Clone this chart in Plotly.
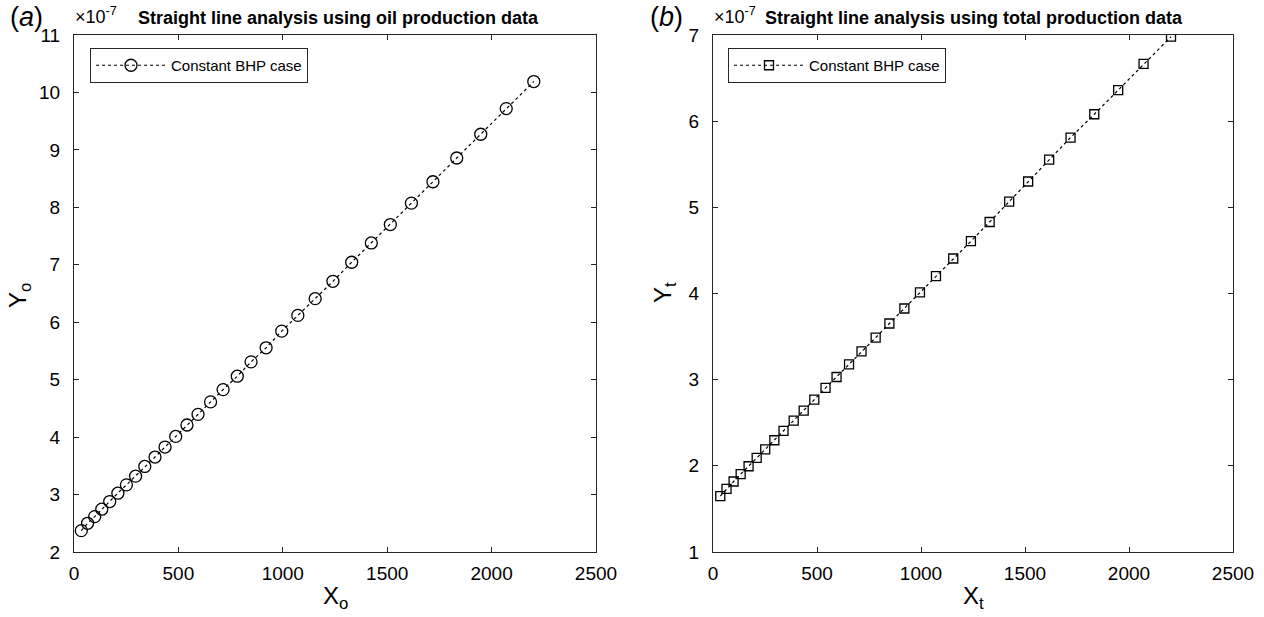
import plotly.graph_objects as go

# ---- data (y values in units of 1e-7) ----
x_vals = [35, 65, 99, 133, 171, 210, 251, 295, 339, 388, 436, 487, 541, 594, 654,
          714, 782, 848, 920, 995, 1072, 1155, 1240, 1330, 1424, 1515, 1616, 1719,
          1833, 1948, 2070, 2202]
y_oil = [2.372, 2.50, 2.616, 2.745, 2.878, 3.024, 3.169, 3.32, 3.489, 3.653, 3.827,
         4.012, 4.211, 4.396, 4.613, 4.827, 5.06, 5.31, 5.555, 5.845, 6.119, 6.41,
         6.712, 7.044, 7.38, 7.70, 8.073, 8.445, 8.859, 9.272, 9.719, 10.19]
y_total = [1.648, 1.733, 1.818, 1.903, 1.995, 2.093, 2.192, 2.297, 2.406, 2.525, 2.641,
           2.768, 2.904, 3.031, 3.177, 3.328, 3.487, 3.652, 3.826, 4.012, 4.202, 4.406,
           4.607, 4.83, 5.066, 5.30, 5.553, 5.81, 6.08, 6.36, 6.665, 6.98]
x_ticks = [0, 500, 1000, 1500, 2000, 2500]
y_ticks_a = [2, 3, 4, 5, 6, 7, 8, 9, 10, 11]
y_ticks_b = [1, 2, 3, 4, 5, 6, 7]
series_name = "Constant BHP case"
title_a = "Straight line analysis using oil production data"
title_b = "Straight line analysis using total production data"

W, H = 1264, 617
L, R, T, B = 74, 31, 35, 65
PW = W - L - R
PH = H - T - B

def px(xp):
    return (xp - L) / PW

def py(yp):
    return (H - B - yp) / PH

FONT = "Liberation Sans, Arial, sans-serif"
AX = "#262626"

fig = go.Figure()
fig.add_trace(go.Scatter(
    x=x_vals, y=y_oil, mode="lines+markers", name=series_name,
    line=dict(color="black", width=1.2, dash="dot"),
    marker=dict(symbol="circle-open", size=12, color="black", line=dict(width=1.3)),
    xaxis="x", yaxis="y", legend="legend"))
fig.add_trace(go.Scatter(
    x=x_vals, y=y_total, mode="lines+markers", name=series_name,
    line=dict(color="black", width=1.2, dash="dot"),
    marker=dict(symbol="square-open", size=9, color="black", line=dict(width=1.3)),
    xaxis="x2", yaxis="y2", legend="legend2"))

axis_common = dict(
    showline=True, linecolor=AX, linewidth=1, mirror="ticks",
    ticks="inside", ticklen=5, tickcolor=AX, tickwidth=1,
    showgrid=False, zeroline=False, automargin=False,
    tickfont=dict(family=FONT, size=19, color="black"),
)
xa_end = px(596)
xb_start = px(713)

fig.update_layout(
    width=W, height=H,
    margin=dict(l=L, r=R, t=T, b=B),
    paper_bgcolor="white", plot_bgcolor="white",
    font=dict(family=FONT, color="black"),
    xaxis=dict(domain=[0, xa_end], range=[0, 2500], tickvals=x_ticks, anchor="y",
               ticklabelstandoff=4, **axis_common),
    yaxis=dict(domain=[0, 1], range=[2, 11], tickvals=y_ticks_a, anchor="x",
               ticklabelstandoff=9, **axis_common),
    xaxis2=dict(domain=[xb_start, 1], range=[0, 2500], tickvals=x_ticks, anchor="y2",
                ticklabelstandoff=4, **axis_common),
    yaxis2=dict(domain=[0, 1], range=[1, 7], tickvals=y_ticks_b, anchor="x2",
                ticklabelstandoff=9, **axis_common),
    legend=dict(x=px(90), y=py(48), xanchor="left", yanchor="top",
                bordercolor=AX, borderwidth=1, bgcolor="white",
                font=dict(family=FONT, size=15), itemwidth=70,
                tracegroupgap=0),
    legend2=dict(x=px(728), y=py(48), xanchor="left", yanchor="top",
                 bordercolor=AX, borderwidth=1, bgcolor="white",
                 font=dict(family=FONT, size=15), itemwidth=70,
                 tracegroupgap=0),
    showlegend=True,
)

ann = []
def add(text, xp, yp, size, xanchor="left", angle=0):
    ann.append(dict(text=text, x=px(xp), y=py(yp), xref="paper", yref="paper",
                    xanchor=xanchor, yanchor="middle", showarrow=False,
                    textangle=angle,
                    font=dict(family=FONT, size=size, color="black")))

add("(<i>a</i>)", 8, 17, 27)
add("×10<sup>-7</sup>", 73, 16, 18)
add("<b>" + title_a + "</b>", 136, 18, 18)
add("(<i>b</i>)", 648, 17, 27)
add("×10<sup>-7</sup>", 712, 16, 18)
add("<b>" + title_b + "</b>", 763, 18, 18)
add("Y<sub>o</sub>", 19, 296, 24, "center", -90)
add("Y<sub>t</sub>", 664, 293, 24, "center", -90)
add("X<sub>o</sub>", 335, 597, 24, "center")
add("X<sub>t</sub>", 973, 597, 24, "center")
fig.update_layout(annotations=ann)

fig.write_html("out.html",
               config={"displayModeBar": False},
               post_script="document.body.style.margin='0';"
                           "document.body.style.overflow='hidden';")
